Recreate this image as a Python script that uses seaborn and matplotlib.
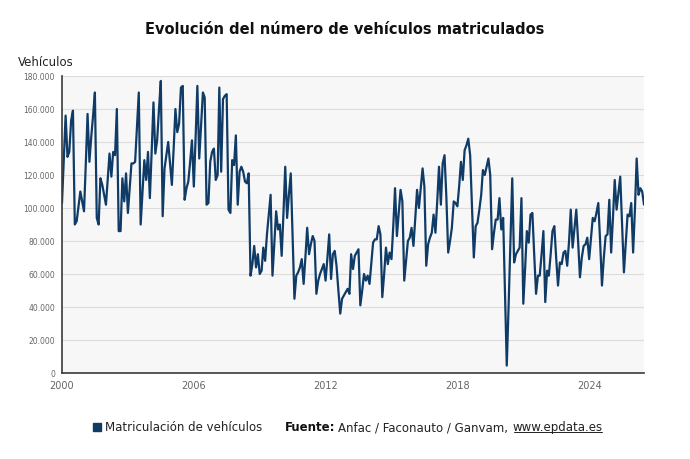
import matplotlib
matplotlib.use("Agg")
import matplotlib.pyplot as plt
from matplotlib.patches import Rectangle
from matplotlib.lines import Line2D
import seaborn as sns
import pandas as pd

# Matriculaciones mensuales (miles de vehículos)
y2000 = [103, 130, 156, 131, 134, 153, 159, 90, 92, 101, 110, 104]
y2001 = [98, 128, 157, 128, 143, 156, 170, 94, 90, 118, 114, 108]
y2002 = [102, 118, 133, 119, 134, 132, 160, 86, 86, 118, 104, 121]
y2003 = [97, 113, 127, 127, 128, 150, 170, 90, 110, 129, 117, 134]
y2004 = [106, 135, 164, 133, 141, 160, 177, 95, 124, 132, 140, 127]
y2005 = [114, 137, 160, 146, 151, 173, 174, 105, 112, 116, 128, 141]
y2006 = [113, 144, 174, 130, 150, 170, 167, 102, 103, 128, 134, 136]
y2007 = [117, 120, 173, 122, 166, 168, 169, 99, 97, 129, 126, 144]
y2008 = [102, 122, 125, 122, 116, 115, 121, 59, 66, 77, 64, 72]
y2009 = [60, 62, 76, 68, 84, 96, 108, 59, 79, 98, 87, 90]
y2010 = [71, 98, 125, 94, 108, 121, 83, 45, 59, 61, 64, 69]
y2011 = [54, 71, 88, 72, 78, 83, 80, 48, 56, 60, 63, 66]
y2012 = [56, 70, 84, 57, 72, 74, 65, 50, 36, 45, 47, 49]
y2013 = [51, 48, 72, 63, 71, 73, 75, 41, 50, 60, 56, 59]
y2014 = [54, 67, 79, 81, 81, 89, 84, 46, 60, 76, 66, 73]
y2015 = [69, 90, 112, 83, 97, 111, 104, 56, 68, 80, 82, 88]
y2016 = [77, 94, 111, 100, 112, 124, 113, 65, 78, 82, 85, 96]
y2017 = [85, 105, 125, 102, 127, 132, 107, 73, 80, 88, 104, 103]
y2018 = [101, 114, 128, 117, 135, 138, 142, 132, 100, 70, 89, 91]
y2019 = [99, 108, 123, 120, 125, 130, 120, 75, 85, 93, 93, 106]
y2020 = [87, 94, 50, 4.5, 40, 80, 118, 67, 72, 74, 76, 106]
y2021 = [42, 64, 86, 79, 96, 97, 72, 48, 59, 59, 72, 86]
y2022 = [43, 62, 59, 72, 86, 89, 70, 53, 67, 66, 73, 74]
y2023 = [65, 80, 99, 76, 87, 99, 80, 58, 70, 77, 78, 82]
y2024 = [69, 82, 94, 92, 97, 103, 80, 53, 70, 83, 84, 105]
y2025 = [73, 95, 117, 99, 109, 119, 90, 61, 79, 96, 95, 103]
y2026 = [73, 100, 130, 108, 112, 110, 102]

years = [y2000, y2001, y2002, y2003, y2004, y2005, y2006, y2007, y2008,
         y2009, y2010, y2011, y2012, y2013, y2014, y2015, y2016, y2017,
         y2018, y2019, y2020, y2021, y2022, y2023, y2024, y2025, y2026]
values = [v * 1000 for y in years for v in y]

tick_years = ["2000", "2006", "2012", "2018", "2024"]
y_ticks = [0, 20000, 40000, 60000, 80000, 100000, 120000, 140000, 160000, 180000]

df = pd.DataFrame({
    "fecha": pd.date_range("2000-01-01", periods=len(values), freq="MS"),
    "matriculaciones": values,
})

navy = "#0f3b66"
sns.set_style("white")
plt.rcParams["font.family"] = ["DejaVu Sans"]

fig = plt.figure(figsize=(6.9, 4.6), dpi=100)
ax = fig.add_axes([62 / 690, 1 - 374 / 460, (644 - 62) / 690, (374 - 77) / 460])
ax.set_facecolor("#f7f7f7")

sns.lineplot(data=df, x="fecha", y="matriculaciones", ax=ax, color=navy,
             linewidth=1.6, legend=False)

ax.set_xlim(df["fecha"].iloc[0], df["fecha"].iloc[-1])
ax.set_ylim(0, 180000)
ax.set_xlabel("")
ax.set_ylabel("")

ax.set_yticks(y_ticks)
ax.set_yticklabels([f"{v:,}".replace(",", ".") for v in y_ticks])
ax.set_xticks(pd.to_datetime([y + "-01-01" for y in tick_years]))
ax.set_xticklabels(tick_years)

ax.grid(axis="y", color="#dcdcdc", linewidth=0.8)
ax.grid(axis="x", visible=False)
ax.set_axisbelow(True)
for s in ["top", "right"]:
    ax.spines[s].set_visible(False)
for s in ["left", "bottom"]:
    ax.spines[s].set_color("#3a3a3a")
    ax.spines[s].set_linewidth(1.2)

ax.tick_params(axis="y", length=3, width=0.8, color="#3a3a3a",
               labelsize=5.5, labelcolor="#666666", pad=2)
ax.tick_params(axis="x", length=2, width=0.8, color="#3a3a3a",
               labelsize=7, labelcolor="#666666", pad=3)

fig.text(0.5, 1 - 30 / 460, "Evolución del número de vehículos matriculados",
         ha="center", va="center", fontsize=10.5, fontweight="bold",
         color="#111111")
fig.text(18 / 690, 1 - 66 / 460, "Vehículos", ha="left", va="baseline",
         fontsize=8.5, color="#222222")

# leyenda y fuente
ly = 1 - 428 / 460
fig.patches.append(Rectangle((93 / 690, ly - 4 / 460), 8 / 690, 8 / 460,
                             transform=fig.transFigure, color=navy))
fig.text(105 / 690, ly, "Matriculación de vehículos", ha="left", va="center",
         fontsize=8.5, color="#222222")

fig.canvas.draw()
r = fig.canvas.get_renderer()
t1 = fig.text(285 / 690, ly, "Fuente:", ha="left", va="center",
              fontsize=8.5, fontweight="bold", color="#111111")
bb = t1.get_window_extent(r)
t2 = fig.text(bb.x1 / 690 + 3 / 690, ly, "Anfac / Faconauto / Ganvam,",
              ha="left", va="center", fontsize=8.5, color="#222222")
bb2 = t2.get_window_extent(r)
t3 = fig.text(bb2.x1 / 690 + 4 / 690, ly, "www.epdata.es", ha="left",
              va="center", fontsize=8.5, color="#222222")
bb3 = t3.get_window_extent(r)
uy = (bb3.y0 + 1.5) / 460
fig.lines.append(Line2D([(bb3.x0 + 1) / 690, (bb3.x1 - 1) / 690], [uy, uy],
                        transform=fig.transFigure, color="#222222", linewidth=0.7))

fig.savefig("out.png", dpi=100)
